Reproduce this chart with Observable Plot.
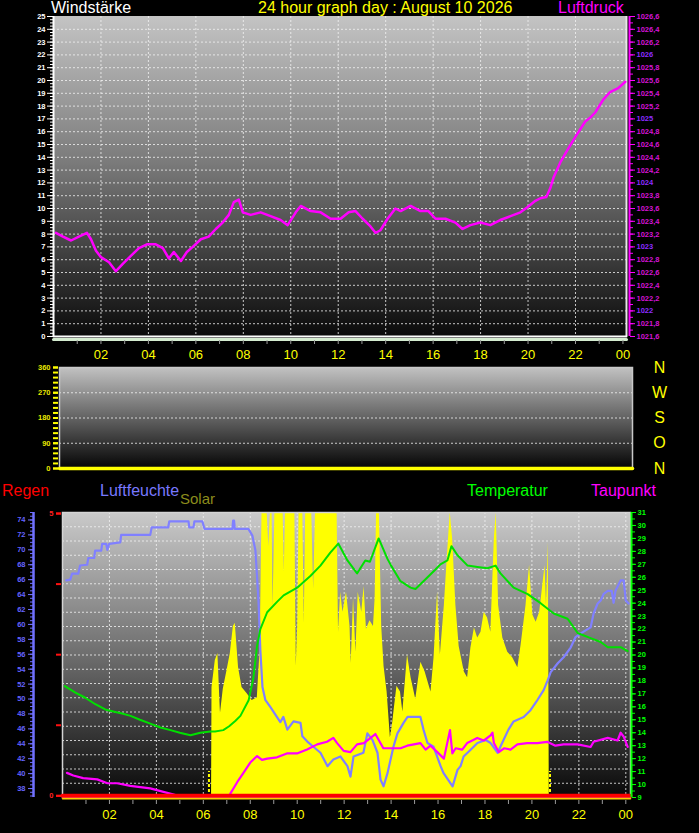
<!DOCTYPE html>
<html>
<head>
<meta charset="utf-8">
<script src="https://cdn.jsdelivr.net/npm/d3@7"></script>
<script src="https://cdn.jsdelivr.net/npm/@observablehq/plot@0.6"></script>
<style>
html, body { margin: 0; padding: 0; background: #000; }
#root { position: relative; width: 699px; height: 833px; background: #000; overflow: hidden;
        font-family: "Liberation Sans", Arial, sans-serif; }
.lbl { position: absolute; white-space: nowrap; font-size: 16px; line-height: 16px; }
.panel { position: absolute; left: 0; }
</style>
</head>
<body>
<div id="root"></div>
<script>
// ---------------- DATA ----------------
// Luftdruck (hPa) over the day (hours)
const pressureHours = [0.1, 0.4, 0.74, 1.07, 1.41, 1.58, 1.79, 2.0, 2.34, 2.63, 2.93, 3.26, 3.6, 3.94, 4.31, 4.61, 4.86, 5.07, 5.37, 5.62, 5.87, 6.21, 6.54, 6.84, 7.13, 7.39, 7.6, 7.81, 7.98, 8.31, 8.73, 9.15, 9.57, 9.87, 10.21, 10.42, 10.84, 11.26, 11.68, 12.1, 12.44, 12.73, 13.03, 13.36, 13.57, 13.78, 14.08, 14.41, 14.63, 15.05, 15.47, 15.8, 16.1, 16.52, 16.94, 17.24, 17.57, 17.99, 18.41, 18.83, 19.26, 19.68, 19.97, 20.31, 20.52, 20.77, 20.94, 21.07, 21.36, 21.7, 22.03, 22.41, 22.62, 22.83, 23.17, 23.46, 23.8, 24.1];
const pressureHpa = [1023.22, 1023.16, 1023.10, 1023.16, 1023.22, 1023.12, 1022.94, 1022.84, 1022.76, 1022.62, 1022.74, 1022.86, 1022.98, 1023.04, 1023.04, 1022.98, 1022.82, 1022.92, 1022.78, 1022.92, 1023.0, 1023.12, 1023.16, 1023.28, 1023.38, 1023.5, 1023.7, 1023.74, 1023.54, 1023.5, 1023.54, 1023.48, 1023.42, 1023.34, 1023.54, 1023.64, 1023.56, 1023.54, 1023.44, 1023.44, 1023.54, 1023.56, 1023.44, 1023.32, 1023.22, 1023.26, 1023.44, 1023.6, 1023.56, 1023.64, 1023.56, 1023.56, 1023.44, 1023.44, 1023.38, 1023.28, 1023.34, 1023.38, 1023.34, 1023.42, 1023.48, 1023.54, 1023.62, 1023.72, 1023.76, 1023.78, 1023.92, 1024.08, 1024.32, 1024.54, 1024.74, 1024.96, 1025.02, 1025.1, 1025.3, 1025.42, 1025.48, 1025.58];

// Windstärke (calm all day) and Windrichtung
const windHours = [0, 24.15];
const windSpeed = [0, 0];
const windDirHours = [0, 24];
const windDirDeg = [0, 0];

// Luftfeuchte (%)
const humidityHours = [0.16, 0.33, 0.41, 0.67, 0.75, 1.05, 1.1, 1.35, 1.39, 1.65, 1.69, 1.86, 1.91, 1.99, 2.46, 2.5, 3.74, 3.8, 4.5, 4.55, 5.37, 5.4, 5.58, 5.62, 5.96, 6.05, 7.24, 7.27, 7.31, 7.34, 7.92, 8.09, 8.22, 8.35, 8.43, 8.52, 8.64, 8.86, 9.07, 9.28, 9.41, 9.58, 9.84, 10.14, 10.22, 10.43, 10.69, 10.99, 11.29, 11.54, 11.84, 12.14, 12.27, 12.4, 12.82, 12.99, 13.21, 13.42, 13.55, 13.68, 13.85, 14.1, 14.27, 14.53, 14.7, 15.25, 15.38, 15.55, 15.81, 16.11, 16.23, 16.62, 16.83, 16.96, 17.09, 17.39, 17.68, 18.03, 18.24, 18.54, 18.79, 19.0, 19.22, 19.65, 19.94, 20.24, 20.5, 20.67, 20.8, 21.1, 21.35, 21.65, 21.86, 22.08, 22.5, 22.63, 22.8, 22.93, 23.06, 23.23, 23.4, 23.48, 23.56, 23.78, 23.91, 24.0, 24.12];
const humidityPct = [65.9, 66.0, 66.8, 66.8, 67.9, 68.0, 68.9, 68.9, 69.9, 69.9, 70.8, 70.8, 70.0, 70.8, 71.0, 72.0, 72.0, 73.0, 73.0, 73.8, 73.8, 73.0, 73.0, 73.8, 73.8, 72.8, 72.8, 73.9, 73.9, 72.8, 72.8, 71.9, 69.9, 63.2, 56.5, 51.6, 49.9, 48.9, 47.9, 46.9, 47.6, 45.9, 47.0, 46.8, 45.0, 44.3, 43.6, 42.8, 41.0, 41.9, 42.3, 41.0, 39.6, 42.3, 42.8, 45.4, 44.5, 42.8, 39.2, 38.3, 40.1, 43.6, 45.4, 46.8, 47.6, 47.6, 45.9, 44.1, 43.6, 41.0, 40.1, 38.3, 40.5, 41.0, 42.3, 43.2, 44.1, 44.5, 44.1, 42.8, 44.5, 45.9, 47.0, 47.6, 48.5, 49.9, 51.2, 52.5, 53.6, 54.8, 55.6, 56.9, 58.3, 58.8, 59.6, 61.5, 62.8, 63.2, 64.1, 64.5, 64.5, 62.9, 64.5, 65.9, 65.9, 63.2, 62.8];

// Temperatur (°C)
const temperatureHours = [0.1, 0.55, 0.97, 1.4, 1.82, 2.25, 2.5, 2.9, 3.3, 3.74, 4.17, 4.6, 5.0, 5.45, 5.87, 6.3, 6.5, 6.85, 7.1, 7.36, 7.58, 7.93, 8.13, 8.29, 8.43, 8.72, 9.14, 9.42, 10.0, 10.56, 10.99, 11.41, 11.75, 12.14, 12.55, 12.9, 13.1, 13.47, 13.85, 14.0, 14.4, 14.83, 15.04, 15.38, 15.89, 16.1, 16.4, 16.57, 16.83, 17.26, 17.68, 18.1, 18.45, 18.66, 19.22, 19.82, 20.37, 20.93, 21.52, 21.95, 22.08, 22.5, 22.93, 23.23, 23.78, 24.08];
const temperatureC = [17.6, 17.1, 16.7, 16.2, 15.8, 15.6, 15.5, 15.3, 15.0, 14.7, 14.4, 14.2, 14.0, 13.8, 14.0, 14.1, 14.1, 14.2, 14.5, 14.9, 15.3, 16.5, 18.2, 20.7, 22.0, 23.3, 24.1, 24.6, 25.2, 26.1, 26.9, 27.9, 28.6, 27.3, 26.3, 27.3, 27.2, 29.0, 27.4, 26.9, 25.7, 25.2, 25.1, 25.7, 26.6, 27.0, 27.3, 28.4, 27.7, 26.9, 26.8, 26.7, 26.9, 26.3, 25.2, 24.7, 24.0, 23.2, 22.8, 21.7, 21.6, 21.3, 21.0, 20.6, 20.6, 20.3];

// Taupunkt (°C)
const dewpointHours = [0.19, 0.46, 0.88, 1.48, 1.91, 2.33, 2.89, 3.74, 4.38, 5.02, 5.45, 5.53, 5.87, 6.51, 7.07, 7.15, 7.45, 7.71, 8.0, 8.29, 8.5, 8.72, 9.14, 9.56, 9.99, 10.42, 10.85, 11.27, 11.54, 11.7, 11.98, 12.27, 12.55, 12.84, 13.33, 13.67, 13.97, 14.4, 14.69, 15.25, 15.47, 15.68, 15.97, 16.25, 16.51, 16.61, 16.75, 17.03, 17.24, 17.46, 17.67, 17.95, 18.24, 18.32, 18.38, 18.59, 18.81, 19.09, 19.38, 19.8, 20.23, 20.65, 21.0, 21.35, 21.95, 22.5, 22.63, 23.23, 23.65, 23.78, 23.91, 24.08];
const dewpointC = [10.9, 10.7, 10.5, 10.4, 10.1, 10.1, 9.9, 9.7, 9.4, 9.1, 9.0, 8.7, 8.5, 8.5, 8.8, 9.3, 10.2, 10.9, 11.7, 12.2, 11.9, 12.0, 12.1, 12.4, 12.4, 12.7, 13.1, 13.3, 13.6, 13.2, 12.6, 12.5, 13.1, 13.2, 13.9, 12.8, 12.8, 12.8, 13.0, 13.2, 12.7, 13.0, 12.5, 12.0, 14.2, 12.4, 12.8, 12.7, 13.2, 13.4, 13.6, 13.4, 13.8, 14.0, 13.2, 12.5, 12.8, 12.7, 13.1, 13.2, 13.2, 13.3, 13.0, 13.1, 13.1, 12.9, 13.3, 13.6, 13.4, 14.0, 13.7, 12.9];

// Solar (W/m², chart top = 1000)
const solarHours = [6.35, 6.37, 6.51, 6.62, 6.73, 6.85, 7.01, 7.15, 7.28, 7.36, 7.5, 7.65, 7.86, 8.08, 8.3, 8.42, 8.5, 8.72, 8.79, 8.86, 8.93, 8.97, 9.05, 9.4, 9.45, 9.5, 9.9, 9.96, 10.02, 10.08, 10.24, 10.3, 10.36, 10.62, 10.7, 10.78, 11.7, 11.76, 11.85, 11.95, 12.1, 12.25, 12.3, 12.4, 12.5, 12.6, 12.75, 12.85, 12.95, 13.1, 13.25, 13.32, 13.38, 13.5, 13.6, 13.7, 13.83, 13.97, 14.05, 14.12, 14.25, 14.4, 14.5, 14.7, 14.85, 15.05, 15.27, 15.45, 15.7, 15.83, 15.98, 16.1, 16.27, 16.4, 16.52, 16.62, 16.76, 16.9, 17.12, 17.26, 17.4, 17.55, 17.69, 17.83, 17.97, 18.11, 18.25, 18.4, 18.48, 18.58, 18.76, 18.97, 19.18, 19.4, 19.54, 19.75, 19.9, 20.04, 20.18, 20.33, 20.45, 20.56, 20.62, 20.7, 20.74];
const solarWm2 = [0, 386, 481, 505, 295, 380, 446, 505, 600, 611, 456, 386, 365, 340, 350, 520, 1000, 1000, 880, 1000, 1000, 670, 1000, 1000, 790, 1000, 1000, 460, 600, 1000, 1000, 610, 1000, 1000, 730, 1000, 1000, 580, 720, 650, 720, 600, 470, 700, 510, 720, 650, 740, 590, 620, 600, 700, 1000, 1000, 600, 460, 370, 210, 250, 300, 390, 370, 300, 500, 420, 345, 475, 440, 370, 490, 720, 500, 675, 850, 1000, 910, 675, 530, 440, 420, 525, 595, 560, 580, 650, 630, 580, 910, 1000, 675, 560, 510, 490, 455, 535, 675, 815, 640, 615, 650, 735, 815, 675, 895, 0];

// Regen (mm) – none
const rainHours = [0, 24.2];
const rainMm = [0, 0];

// sunrise / sunset markers (hours)
const sunMarkHours = [6.24, 20.77];

// tick labels
const hourTicks = [2, 4, 6, 8, 10, 12, 14, 16, 18, 20, 22, 24];
const windTicks = d3.range(0, 26);
const dirTicks = [0, 90, 180, 270, 360];
const compassLabels = ["N", "O", "S", "W", "N"];
const humidityTicks = d3.range(38, 75, 2);
const temperatureTicks = d3.range(9, 32);
const rainTicks = [0, 1.25, 2.5, 3.75, 5];
const rainLabelTicks = [0, 5];

// ---------------- HELPERS ----------------
const zip = (xs, ys) => xs.map((x, i) => ({h: x, v: ys[i]}));
const fmtHour = h => String(h % 24).padStart(2, "0");
const pBase = 1021.6, pStep = 0.2;                // right axis: 1 wind unit = 0.2 hPa
const pOf = d => Math.round((pBase + d * pStep) * 10) / 10;
const fmtP = d => { const p = pOf(d); return (Number.isInteger(p) ? String(p) : p.toFixed(1)).replace(".", ","); };
const hum2t = d3.scaleLinear().domain([36.8, 75]).range([9, 31]);
const rain2t = d3.scaleLinear().domain([0, 5]).range([9.13, 30.92]);
const solar2t = d3.scaleLinear().domain([0, 1000]).range([9, 31]);
const dotted = {stroke: "#f2f2f2", strokeDasharray: "2,2", strokeOpacity: 0.8};
const axisFont = {fontSize: 7.5, fontWeight: "bold"};
const baseStyle = {background: "transparent", color: "white", overflow: "visible",
                   fontFamily: "'Liberation Sans', Arial, sans-serif"};

function gradientBackground(id, stops) {
  return (index, scales, values, dim) => {
    const g = d3.create("svg:g");
    const lg = g.append("defs").append("linearGradient").attr("id", id)
      .attr("x1", 0).attr("y1", 0).attr("x2", 0).attr("y2", 1);
    stops.forEach(([o, c]) => lg.append("stop").attr("offset", o).attr("stop-color", c));
    g.append("rect")
      .attr("x", dim.marginLeft).attr("y", dim.marginTop)
      .attr("width", dim.width - dim.marginLeft - dim.marginRight)
      .attr("height", dim.height - dim.marginTop - dim.marginBottom)
      .attr("fill", `url(#${id})`);
    return g.node();
  };
}

const root = document.getElementById("root");
function place(el, top) { el.classList.add("panel"); el.style.top = top + "px"; root.appendChild(el); }
function label(text, left, top, color, size) {
  const d = document.createElement("div");
  d.className = "lbl"; d.textContent = text;
  d.style.left = left + "px"; d.style.top = top + "px"; d.style.color = color;
  if (size) { d.style.fontSize = size + "px"; d.style.lineHeight = size + "px"; }
  root.appendChild(d);
}

// ---------------- PANEL 1: Windstärke / Luftdruck ----------------
const topX = [0, 24.15];
const pIntTicks = windTicks.filter(d => Number.isInteger(pOf(d)));
const pDecTicks = windTicks.filter(d => !Number.isInteger(pOf(d)));
const chart1 = Plot.plot({
  width: 699, height: 372,
  marginLeft: 53, marginRight: 73, marginTop: 16, marginBottom: 36,
  x: {domain: topX, axis: null},
  y: {domain: [0, 25], axis: null},
  style: baseStyle,
  marks: [
    gradientBackground("bgTop", [["0%", "#c4c4c4"], ["45%", "#7c7c7c"], ["100%", "#0a0a0a"]]),
    Plot.ruleY(d3.range(1, 25), dotted),
    Plot.ruleX(d3.range(2, 24, 2), dotted),
    Plot.ruleX([topX[1]], {stroke: "#e8e8e8", strokeWidth: 2}),
    Plot.line(zip(windHours, windSpeed), {x: "h", y: "v", stroke: "#d4ecd0", strokeWidth: 3, dy: 3}),
    Plot.line(zip(windHours, windSpeed), {x: "h", y: "v", stroke: "white", strokeWidth: 2}),
    Plot.line(zip(pressureHours, pressureHpa), {x: "h", y: d => (d.v - pBase) / pStep, stroke: "#ff00ff", strokeWidth: 2.5}),
    // left axis (Windstärke)
    Plot.ruleX([topX[0]], {stroke: "white", strokeWidth: 2}),
    Plot.axisY(d3.range(0, 25.001, 0.25), {anchor: "left", tickSize: 3, stroke: "white", tickFormat: () => "", label: null}),
    Plot.axisY(windTicks, {anchor: "left", tickSize: 6, tickPadding: 2, stroke: "white", fill: "white", label: null, ...axisFont}),
    // right axis (Luftdruck)
    Plot.ruleX([topX[1]], {stroke: "#ff00ff", strokeWidth: 2, dx: 3}),
    Plot.axisY(d3.range(0, 25.001, 0.5), {anchor: "right", dx: 3, tickSize: 3, stroke: "#ff00ff", tickFormat: () => "", label: null}),
    Plot.axisY(pDecTicks, {anchor: "right", dx: 3, tickSize: 5, tickPadding: 2, stroke: "#ff00ff", fill: "#d414d4", tickFormat: fmtP, label: null, ...axisFont}),
    Plot.axisY(pIntTicks, {anchor: "right", dx: 3, tickSize: 5, tickPadding: 2, stroke: "#ff00ff", fill: "#8c2cff", tickFormat: fmtP, label: null, ...axisFont}),
    // x axis
    Plot.axisX(d3.range(1, 25), {anchor: "bottom", tickSize: 4, dy: 4, stroke: "#9a9a9a", tickFormat: () => "", label: null}),
    Plot.axisX(hourTicks, {anchor: "bottom", tickSize: 0, tickPadding: 13, fill: "#ffff00", fontSize: 13, tickFormat: fmtHour, label: null})
  ]
});
place(chart1, 0);

// ---------------- PANEL 2: Windrichtung ----------------
const chart2 = Plot.plot({
  width: 699, height: 120,
  marginLeft: 59, marginRight: 67, marginTop: 7, marginBottom: 12,
  x: {domain: [0, 24], axis: null},
  y: {domain: [0, 360], axis: null},
  style: baseStyle,
  marks: [
    gradientBackground("bgMid", [["0%", "#c2c2c2"], ["100%", "#050505"]]),
    Plot.ruleY([90, 180, 270, 360], dotted),
    Plot.frame({stroke: "#c8c8c8", strokeWidth: 1.5}),
    Plot.line(zip(windDirHours, windDirDeg), {x: "h", y: "v", stroke: "#ffff00", strokeWidth: 3.5}),
    Plot.axisY(d3.range(0, 361, 18), {anchor: "left", dx: -1, tickSize: 5, stroke: "#ffff00", strokeWidth: 2, tickFormat: () => "", label: null}),
    Plot.axisY(dirTicks, {anchor: "left", dx: -1, tickSize: 5, tickPadding: 3, stroke: "#ffff00", strokeWidth: 2, fill: "#e8e800", label: null, ...axisFont}),
    Plot.text(dirTicks, {y: d => d, text: (d, i) => compassLabels[i], frameAnchor: "right", dx: 27,
                         textAnchor: "middle", fill: "#ffff00", fontSize: 16})
  ]
});
place(chart2, 360);

// ---------------- PANEL 3: Regen / Luftfeuchte / Solar / Temperatur / Taupunkt ----------------
const botX = [0, 24.2];
const chart3 = Plot.plot({
  width: 699, height: 328,
  marginLeft: 62, marginRight: 69, marginTop: 7, marginBottom: 36,
  x: {domain: botX, axis: null},
  y: {domain: [9, 31], axis: null},
  style: baseStyle,
  marks: [
    gradientBackground("bgBot", [["0%", "#cacaca"], ["50%", "#6e6e6e"], ["100%", "#080808"]]),
    Plot.ruleY(d3.range(1, 20).map(k => 9 + k * 22 / 20), dotted),
    Plot.ruleX(d3.range(2, 25, 2), dotted),
    Plot.area(zip(solarHours, solarWm2), {x1: "h", y1: () => solar2t(0), y2: d => solar2t(d.v), fill: "#ffff00"}),
    Plot.ruleX(sunMarkHours, {y1: 9, y2: 11, stroke: "#ffff00", strokeWidth: 2, strokeDasharray: "3,2"}),
    Plot.frame({stroke: "#d4d4d4", strokeWidth: 1.5}),
    Plot.line(zip(humidityHours, humidityPct), {x: "h", y: d => hum2t(d.v), stroke: "#8080ff", strokeWidth: 2.2}),
    Plot.line(zip(temperatureHours, temperatureC), {x: "h", y: "v", stroke: "#00e000", strokeWidth: 2}),
    Plot.line(zip(dewpointHours, dewpointC), {x: "h", y: "v", stroke: "#ff00ff", strokeWidth: 2.2, clip: true}),
    Plot.line(zip(rainHours, rainMm), {x: "h", y: d => rain2t(d.v), stroke: "#ffcc00", strokeWidth: 1.5, dy: 3}),
    Plot.line(zip(rainHours, rainMm), {x: "h", y: d => rain2t(d.v), stroke: "#ff0000", strokeWidth: 4}),
    // humidity axis (far left)
    Plot.ruleX([botX[0]], {dx: -29, stroke: "#7070ff", strokeWidth: 2.5}),
    Plot.axisY(d3.range(37, 75.01, 0.5).map(hum2t), {anchor: "left", dx: -29, tickSize: 3, stroke: "#7070ff", tickFormat: () => "", label: null}),
    Plot.axisY(humidityTicks.map(hum2t), {anchor: "left", dx: -29, tickSize: 5, tickPadding: 3, stroke: "#7070ff", fill: "#6464ff",
                                          tickFormat: d => Math.round(hum2t.invert(d)), label: null, ...axisFont}),
    // rain axis
    Plot.axisY(rainTicks.map(rain2t), {anchor: "left", dx: -1, tickSize: 5, stroke: "#ff1010", strokeWidth: 2, tickFormat: () => "", label: null}),
    Plot.axisY(rainLabelTicks.map(rain2t), {anchor: "left", dx: -1, tickSize: 5, tickPadding: 3, stroke: "#ff1010", strokeWidth: 2, fill: "#ff2020",
                                            tickFormat: d => Math.round(rain2t.invert(d)), label: null, ...axisFont}),
    // temperature axis (right)
    Plot.ruleX([botX[1]], {dx: 1, stroke: "#00ff00", strokeWidth: 2}),
    Plot.axisY(d3.range(9, 31.01, 0.5), {anchor: "right", dx: 1, tickSize: 3, stroke: "#00ff00", tickFormat: () => "", label: null}),
    Plot.axisY(temperatureTicks, {anchor: "right", dx: 1, tickSize: 4, tickPadding: 2, stroke: "#00ff00", fill: "#00ff00", label: null, ...axisFont}),
    // x axis
    Plot.axisX(d3.range(1, 25), {anchor: "bottom", tickSize: 4, dy: 3, stroke: "#9a9a9a", tickFormat: () => "", label: null}),
    Plot.axisX(hourTicks, {anchor: "bottom", tickSize: 0, tickPadding: 12, fill: "#ffff00", fontSize: 13, tickFormat: fmtHour, label: null})
  ]
});
place(chart3, 505);

// ---------------- TITLES / LEGENDS ----------------
label("Windstärke", 51, -0.5, "#ffffff");
label("24 hour graph day : August 10 2026", 258, -0.5, "#ffff00");
label("Luftdruck", 558, -0.5, "#ff00ff");
label("Regen", 2, 482.5, "#ff0000");
label("Luftfeuchte", 100, 482.5, "#7878ff");
label("Solar", 180, 491.3, "#8c8c1c", 15);
label("Temperatur", 467, 482.5, "#00ff00");
label("Taupunkt", 591, 482.5, "#ff00ff");
</script>
</body>
</html>
